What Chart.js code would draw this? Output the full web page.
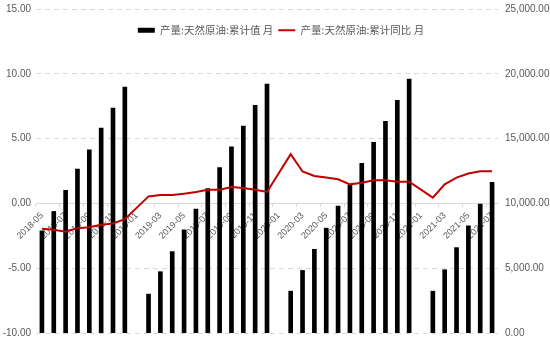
<!DOCTYPE html>
<html>
<head>
<meta charset="utf-8">
<script src="https://cdn.jsdelivr.net/npm/chart.js@4"></script>
<style>
  body { margin: 0; background: #fff; }
  #wrap { width: 550px; height: 343px; }
</style>
</head>
<body>
<div id="wrap"><canvas id="oilChart" width="550" height="343"></canvas></div>
<script>
// 产量:天然原油 月度累计值与累计同比
const months = [
  "2018-05", "2018-06", "2018-07", "2018-08", "2018-09", "2018-10", "2018-11", "2018-12",
  "2019-01", "2019-02", "2019-03", "2019-04", "2019-05", "2019-06", "2019-07", "2019-08",
  "2019-09", "2019-10", "2019-11", "2019-12",
  "2020-01", "2020-02", "2020-03", "2020-04", "2020-05", "2020-06", "2020-07", "2020-08",
  "2020-09", "2020-10", "2020-11", "2020-12",
  "2021-01", "2021-02", "2021-03", "2021-04", "2021-05", "2021-06", "2021-07"
];

// 累计值 (万吨), 1月无数据
const cumValue = [
  7880, 9380, 11010, 12640, 14130, 15810, 17360, 18970,
  null, 3000, 4730, 6280, 7960, 9560, 11140, 12770, 14360, 15970, 17570, 19200,
  null, 3230, 4830, 6460, 8090, 9790, 11400, 13100, 14710, 16330, 17960, 19590,
  null, 3230, 4880, 6590, 8270, 9950, 11630
];

// 累计同比 (%)
const cumYoY = [
  -1.96, -2.04, -2.19, -1.91, -1.84, -1.65, -1.55, -1.22,
  null, 0.54, 0.64, 0.64, 0.75, 0.88, 1.06, 1.06, 1.26, 1.19, 1.06, 0.88,
  null, 3.80, 2.46, 2.12, 1.99, 1.86, 1.47, 1.60, 1.78, 1.78, 1.68, 1.68,
  null, 0.44, 1.47, 1.99, 2.30, 2.48, 2.48
];

const leftTicks = [-10, -5, 0, 5, 10, 15];
const rightTicks = [0, 5000, 10000, 15000, 20000, 25000];

const textColor = "#595959";
const gridColor = "#d9d9d9";

// legend sits inside the plot, below the top gridline
const legendInside = {
  id: "legendInside",
  afterLayout(chart) {
    const lg = chart.legend;
    lg.top = 20;
    lg.bottom = 42;
    lg.left += 6;
    lg.right += 6;
  },
};

const ctx = document.getElementById("oilChart").getContext("2d");

new Chart(ctx, {
  type: "bar",
  data: {
    labels: months,
    datasets: [
      {
        label: "产量:天然原油:累计值 月",
        data: cumValue,
        backgroundColor: "#000000",
        borderWidth: 0,
        barThickness: 4,
        pointStyle: "rect",
        yAxisID: "y1",
        order: 2,
      },
      {
        type: "line",
        label: "产量:天然原油:累计同比 月",
        data: cumYoY,
        borderColor: "#c00000",
        backgroundColor: "#c00000",
        borderWidth: 2,
        pointRadius: 0,
        pointStyle: "line",
        tension: 0,
        spanGaps: true,
        yAxisID: "y",
        order: 1,
      },
    ],
  },
  options: {
    responsive: false,
    animation: false,
    layout: { padding: { top: 8, right: 0, bottom: 10, left: 0 } },
    plugins: {
      legend: {
        position: "top",
        maxHeight: 1,
        labels: {
          usePointStyle: true,
          pointStyleWidth: 17,
          boxHeight: 5,
          padding: 5,
          color: textColor,
          font: { family: "'Noto Sans CJK SC', 'Noto Sans'", size: 10.5 },
          sort: (a, b) => a.datasetIndex - b.datasetIndex,
        },
      },
      tooltip: { enabled: false },
    },
    scales: {
      x: {
        position: { y: 0 },
        offset: true,
        grid: {
          display: true,
          drawOnChartArea: false,
          drawTicks: true,
          tickLength: 3,
          color: (c) => (c.index % 2 === 0 ? gridColor : "rgba(0,0,0,0)"),
        },
        border: { display: true, color: gridColor },
        ticks: {
          autoSkip: false,
          minRotation: 45,
          maxRotation: 45,
          padding: 4,
          color: textColor,
          font: { family: "'Liberation Sans', Arial", size: 9 },
          callback: (v, i) => (i % 2 === 0 ? months[i] : ""),
        },
      },
      y: {
        position: "left",
        min: leftTicks[0],
        max: leftTicks[leftTicks.length - 1],
        afterBuildTicks: (s) => { s.ticks = leftTicks.map((v) => ({ value: v })); },
        afterFit: (s) => { s.width = 36; },
        grid: { color: gridColor, drawTicks: false },
        border: { display: false, dash: [5, 4] },
        ticks: {
          padding: 5,
          color: textColor,
          font: { family: "'Liberation Sans', Arial", size: 10, lineHeight: 0.6 },
          callback: (v) => v.toFixed(2),
        },
      },
      y1: {
        position: "right",
        min: rightTicks[0],
        max: rightTicks[rightTicks.length - 1],
        afterBuildTicks: (s) => { s.ticks = rightTicks.map((v) => ({ value: v })); },
        afterFit: (s) => { s.width = 52; },
        grid: { display: false, drawTicks: false },
        border: { display: false },
        ticks: {
          padding: 7,
          color: textColor,
          font: { family: "'Liberation Sans', Arial", size: 10, lineHeight: 0.3 },
          callback: (v) => v.toLocaleString("en-US", { minimumFractionDigits: 2, maximumFractionDigits: 2 }),
        },
      },
    },
  },
  plugins: [legendInside],
});
</script>
</body>
</html>
